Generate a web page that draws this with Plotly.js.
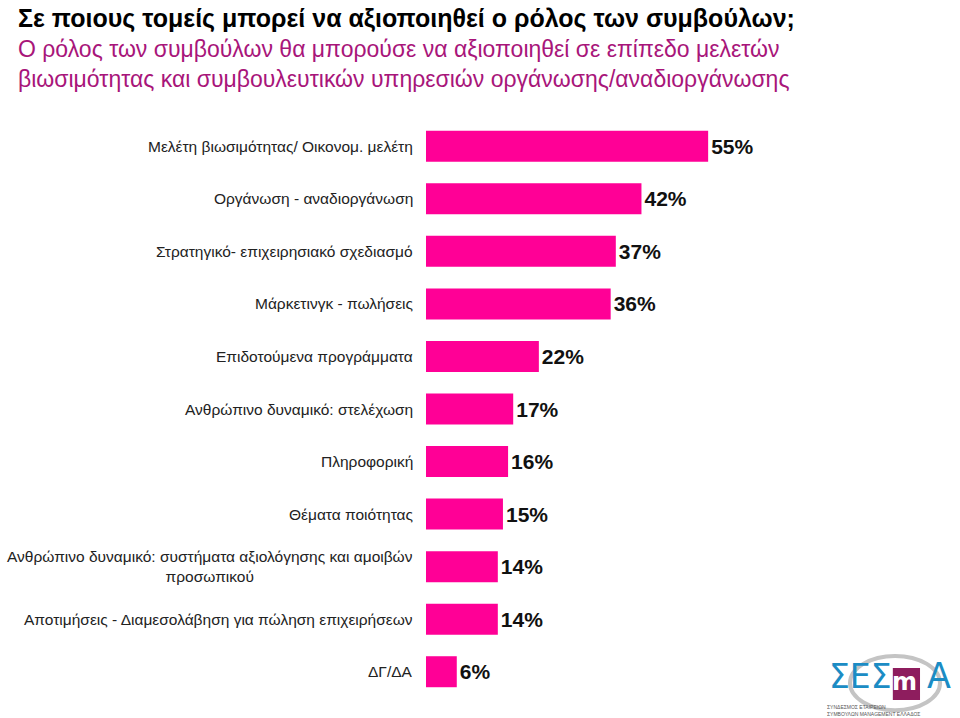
<!DOCTYPE html>
<html>
<head>
<meta charset="utf-8">
<script src="https://cdn.plot.ly/plotly-3.0.1.min.js"></script>
<style>html,body{margin:0;padding:0;background:#fff;}#chart{width:960px;height:718px;}</style>
</head>
<body>
<div id="chart"></div>
<script>
const categories = [
  "Μελέτη βιωσιμότητας/ Οικονομ. μελέτη",
  "Οργάνωση - αναδιοργάνωση",
  "Στρατηγικό- επιχειρησιακό σχεδιασμό",
  "Μάρκετινγκ - πωλήσεις",
  "Επιδοτούμενα προγράμματα",
  "Ανθρώπινο δυναμικό: στελέχωση",
  "Πληροφορική",
  "Θέματα ποιότητας",
  "Ανθρώπινο δυναμικό: συστήματα αξιολόγησης και αμοιβών",
  "Αποτιμήσεις - Διαμεσολάβηση για πώληση επιχειρήσεων",
  "ΔΓ/ΔΑ"
];
const categoryLabels = [
  "Μελέτη βιωσιμότητας/ Οικονομ. μελέτη",
  "Οργάνωση - αναδιοργάνωση",
  "Στρατηγικό- επιχειρησιακό σχεδιασμό",
  "Μάρκετινγκ - πωλήσεις",
  "Επιδοτούμενα προγράμματα",
  "Ανθρώπινο δυναμικό: στελέχωση",
  "Πληροφορική",
  "Θέματα ποιότητας",
  "Ανθρώπινο δυναμικό: συστήματα αξιολόγησης και αμοιβών<br>προσωπικού",
  "Αποτιμήσεις - Διαμεσολάβηση για πώληση επιχειρήσεων",
  "ΔΓ/ΔΑ"
];
const values = [55, 42, 37, 36, 22, 17, 16, 15, 14, 14, 6];
const titleText = "Σε ποιους τομείς μπορεί να αξιοποιηθεί ο ρόλος των συμβούλων;";
const subtitleText = "Ο ρόλος των συμβούλων θα μπορούσε να αξιοποιηθεί σε επίπεδο μελετών<br>βιωσιμότητας και συμβουλευτικών υπηρεσιών οργάνωσης/αναδιοργάνωσης";
const logoLetters = "ΣΕΣ";
const logoM = "m";
const logoA = "Α";
const logoCaption = "ΣΥΝΔΕΣΜΟΣ ΕΤΑΙΡΕΙΩΝ<br>ΣΥΜΒΟΥΛΩΝ MANAGEMENT ΕΛΛΑΔΟΣ";

const trace = {
  type: 'bar',
  orientation: 'h',
  x: values,
  y: categories,
  marker: {color: '#FF0096'},
  text: values.map(v => v + '%'),
  textposition: 'outside',
  cliponaxis: false,
  textfont: {family: 'Liberation Sans, Arial, sans-serif', size: 21, color: '#111', weight: 'bold'},
  hoverinfo: 'skip'
};

const annotations = categoryLabels.map((lab, i) => ({
  xref: 'paper', yref: 'y', x: 0, y: categories[i],
  xanchor: 'right', yanchor: 'middle', xshift: -11,
  text: lab, showarrow: false, align: 'center',
  font: {family: 'Liberation Sans, Arial, sans-serif', size: 15.5, color: '#222'}
}));

annotations.push({
  xref: 'paper', yref: 'paper', x: 0, y: 1, xanchor: 'left', yanchor: 'top',
  xshift: -410, yshift: 118, text: titleText, showarrow: false,
  font: {family: 'Liberation Sans Narrow, Arial Narrow, sans-serif', size: 25, color: '#000', weight: 'bold'}
});
annotations.push({
  xref: 'paper', yref: 'paper', x: 0, y: 1, xanchor: 'left', yanchor: 'top',
  xshift: -410, yshift: 86, text: subtitleText, showarrow: false, align: 'left',
  font: {family: 'Liberation Sans, Arial, sans-serif', size: 23, color: '#A8157A'}
});

// logo (approximation)
annotations.push({
  xref: 'paper', yref: 'paper', x: 1, y: 0, xanchor: 'right', yanchor: 'bottom',
  xshift: -45, yshift: 0, showarrow: false,
  text: logoLetters, font: {family: 'DejaVu Sans, sans-serif', size: 33, color: '#1B8CC4'}
});
annotations.push({
  xref: 'paper', yref: 'paper', x: 1, y: 0, xanchor: 'right', yanchor: 'bottom',
  xshift: 14, yshift: 0, showarrow: false,
  text: logoA, font: {family: 'DejaVu Sans, sans-serif', size: 35, color: '#1B8CC4'}
});
annotations.push({
  xref: 'paper', yref: 'paper', x: 1, y: 0, xanchor: 'right', yanchor: 'bottom',
  xshift: -20, yshift: 0, showarrow: false,
  text: '<b>' + logoM + '</b>', font: {family: 'DejaVu Sans, sans-serif', size: 24, color: '#fff'}
});
annotations.push({
  xref: 'paper', yref: 'paper', x: 1, y: 0, xanchor: 'left', yanchor: 'top',
  xshift: -114, yshift: -4, showarrow: false, align: 'left',
  text: logoCaption,
  font: {family: 'Liberation Sans, Arial, sans-serif', size: 5, color: '#555'}
});

const layout = {
  width: 960, height: 718,
  margin: {l: 426, r: 21, t: 120, b: 20},
  paper_bgcolor: '#fff', plot_bgcolor: '#fff',
  showlegend: false,
  bargap: 0.41,
  xaxis: {range: [0, 100], visible: false, fixedrange: true},
  yaxis: {type: 'category', categoryorder: 'array', categoryarray: categories,
          range: [10.5, -0.5], showticklabels: false, showgrid: false, zeroline: false,
          showline: false, ticks: '', fixedrange: true},
  annotations: annotations,
  shapes: [
    {type: 'circle', xref: 'paper', yref: 'paper', x0: 0.8265, x1: 1.002, y0: -0.021, y1: 0.0727,
     line: {color: '#C4C4C4', width: 4}, layer: 'below'},
    {type: 'rect', xref: 'paper', yref: 'paper', x0: 0.910, x1: 0.963, y0: -0.0035, y1: 0.052,
     fillcolor: '#8E1D5E', line: {width: 0}, layer: 'below'}
  ]
};

Plotly.newPlot('chart', [trace], layout, {displayModeBar: false, staticPlot: true});
</script>
</body>
</html>
